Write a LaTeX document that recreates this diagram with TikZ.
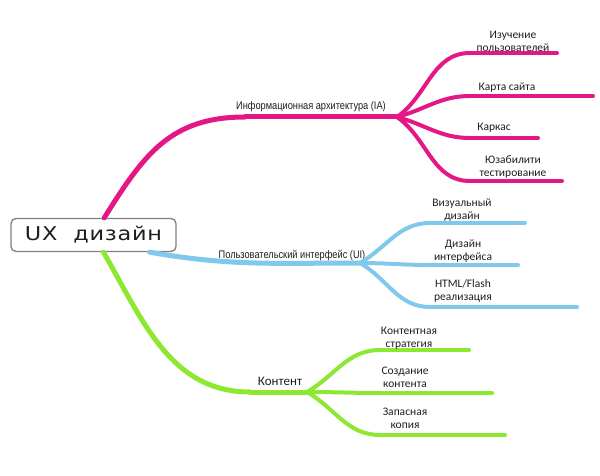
\documentclass[tikz,border=0pt]{standalone}
\usepackage{fontspec}
\setmainfont{Carlito}
\newfontfamily\narrowfont[FakeStretch=0.84]{Liberation Sans}
\newfontfamily\rootfont[FakeStretch=1.18, LetterSpace=4]{DejaVu Sans}
\usetikzlibrary{positioning, calc}
\definecolor{iapink}{RGB}{228,24,132}
\definecolor{uiblue}{RGB}{128,200,236}
\definecolor{cgreen}{RGB}{140,232,48}
\definecolor{ink}{RGB}{30,30,30}

\begin{document}
\begin{tikzpicture}[x=1pt, y=-1pt]
	\tikzstyle{root}=[draw=gray, fill=white, rounded corners=5pt, line width=1.3pt, minimum width=165pt, minimum height=33pt, font=\rootfont\fontsize{19}{21}\selectfont, text=ink];
	\tikzstyle{main}=[line width=5pt, line cap=round];
	\tikzstyle{leaf}=[line width=4pt, line cap=round];
	\tikzstyle{head}=[font=\narrowfont\fontsize{11}{13}\selectfont, text=ink, inner sep=0pt];
	\tikzstyle{topic}=[font=\fontsize{11.5}{13}\selectfont, text=ink, align=center, inner sep=0pt];

	\useasboundingbox (0, 0) rectangle (600, 476);

	\node (ux) at (93.5, 235) [root] {UX\ \ дизайн};

	% IA
	\coordinate (ia0) at (245, 117);
	\coordinate (ia) at (397, 117);
	\draw (ux) edge[out=58, in=180, looseness=1.1, main, draw=iapink] (ia0);
	\draw (ia0) edge[main, draw=iapink] (ia);
	\node (ialabel) at (311, 107) [head] {Информационная архитектура (IA)};

	\coordinate (user0) at (470, 53);   \coordinate (user) at (557, 53);
	\coordinate (map0) at (470, 96);    \coordinate (map) at (593, 96);
	\coordinate (frame0) at (470, 138); \coordinate (frame) at (538, 138);
	\coordinate (test0) at (470, 181);  \coordinate (test) at (562, 181);
	\draw (ia) edge[out=35, in=180, leaf, draw=iapink] (user0);
	\draw (ia) edge[out=15, in=180, leaf, draw=iapink] (map0);
	\draw (ia) edge[out=-15, in=180, leaf, draw=iapink] (frame0);
	\draw (ia) edge[out=-35, in=180, leaf, draw=iapink] (test0);
	\draw (user0) edge[leaf, draw=iapink] (user);
	\draw (map0) edge[leaf, draw=iapink] (map);
	\draw (frame0) edge[leaf, draw=iapink] (frame);
	\draw (test0) edge[leaf, draw=iapink] (test);
	\node (userlabel) at (513, 41) [topic] {Изучение\\пользователей};
	\node (maplabel) at (507, 87.5) [topic] {Карта сайта};
	\node (framelabel) at (494, 127.5) [topic] {Каркас};
	\node (testlabel) at (513, 167) [topic] {Юзабилити\\тестирование};

	% UI
	\coordinate (ui) at (360, 263);
	\draw (ux.-17) edge[out=-10, in=180, main, draw=uiblue] (ui);
	\node (uilabel) at (292, 256) [head] {Пользовательский интерфейс (UI)};

	\coordinate (visual0) at (430, 223); \coordinate (visual) at (525, 223);
	\coordinate (iface0) at (430, 265);  \coordinate (iface) at (518, 265);
	\coordinate (html0) at (430, 307);   \coordinate (html) at (577, 307);
	\draw (ui) edge[out=30, in=180, leaf, draw=uiblue] (visual0);
	\draw (ui) edge[out=0, in=180, leaf, draw=uiblue] (iface0);
	\draw (ui) edge[out=-30, in=180, leaf, draw=uiblue] (html0);
	\draw (visual0) edge[leaf, draw=uiblue] (visual);
	\draw (iface0) edge[leaf, draw=uiblue] (iface);
	\draw (html0) edge[leaf, draw=uiblue] (html);
	\node (visuallabel) at (462, 210) [topic] {Визуальный\\дизайн};
	\node (ifacelabel) at (463, 251) [topic] {Дизайн\\интерфейса};
	\node (htmllabel) at (463, 291) [topic] {HTML/Flash\\реализация};

	% content
	\coordinate (ct0) at (250, 392);
	\coordinate (ct) at (307, 392);
	\draw (ux) edge[out=-60, in=180, main, draw=cgreen] (ct0);
	\draw (ct0) edge[main, draw=cgreen] (ct);
	\node (ctlabel) at (280, 381) [topic, font=\fontsize{13}{15}\selectfont] {Контент};

	\coordinate (plan0) at (380, 350);   \coordinate (plan) at (469, 350);
	\coordinate (make0) at (380, 393);   \coordinate (make) at (492, 393);
	\coordinate (backup0) at (380, 435); \coordinate (backup) at (505, 435);
	\draw (ct) edge[out=30, in=180, leaf, draw=cgreen] (plan0);
	\draw (ct) edge[out=0, in=180, leaf, draw=cgreen] (make0);
	\draw (ct) edge[out=-30, in=180, leaf, draw=cgreen] (backup0);
	\draw (plan0) edge[leaf, draw=cgreen] (plan);
	\draw (make0) edge[leaf, draw=cgreen] (make);
	\draw (backup0) edge[leaf, draw=cgreen] (backup);
	\node (planlabel) at (409, 338) [topic] {Контентная\\стратегия};
	\node (makelabel) at (405, 377) [topic] {Создание\\контента};
	\node (backuplabel) at (405, 418) [topic] {Запасная\\копия};
\end{tikzpicture}
\end{document}
